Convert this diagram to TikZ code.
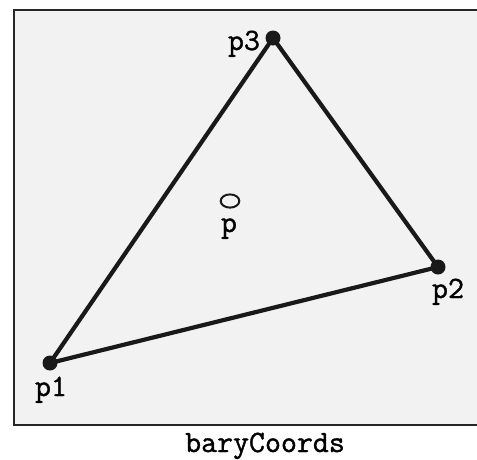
\documentclass[tikz,border=0pt]{standalone}
\usepackage{fontspec}
\setmonofont{Latin Modern Mono}[FakeBold=1.2]
\begin{document}
\begin{tikzpicture}[x=1pt,y=-1pt,
  lbl/.style={font=\ttfamily\fontsize{31}{31}\selectfont, inner sep=0pt, anchor=base},
  vtx/.style={circle, fill=black!90, inner sep=0pt, minimum size=15pt},
  edge/.style={line width=4.2pt, black!90}]
\useasboundingbox (0,0) rectangle (477,459);
\draw[line width=2.6pt, draw=black!85, fill=black!5] (14,10) rectangle (490,425);
\node[vtx] (p1) at (50,363) {};
\node[vtx] (p2) at (438,267) {};
\node[vtx] (p3) at (273,38) {};
\draw[edge] (p1.center) -- (p2.center) -- (p3.center) -- cycle;
\draw[line width=2pt, black!90] (230,201) ellipse [x radius=9.3pt, y radius=6.6pt];
\node[lbl] (l1) at (51,396) {p1};
\node[lbl] (l2) at (448,298) {p2};
\node[lbl] (l3) at (244,50) {p3};
\node[lbl] (lp) at (229,232) {p};
\node[lbl] (cap) at (265,452) {baryCoords};
\end{tikzpicture}
\end{document}
